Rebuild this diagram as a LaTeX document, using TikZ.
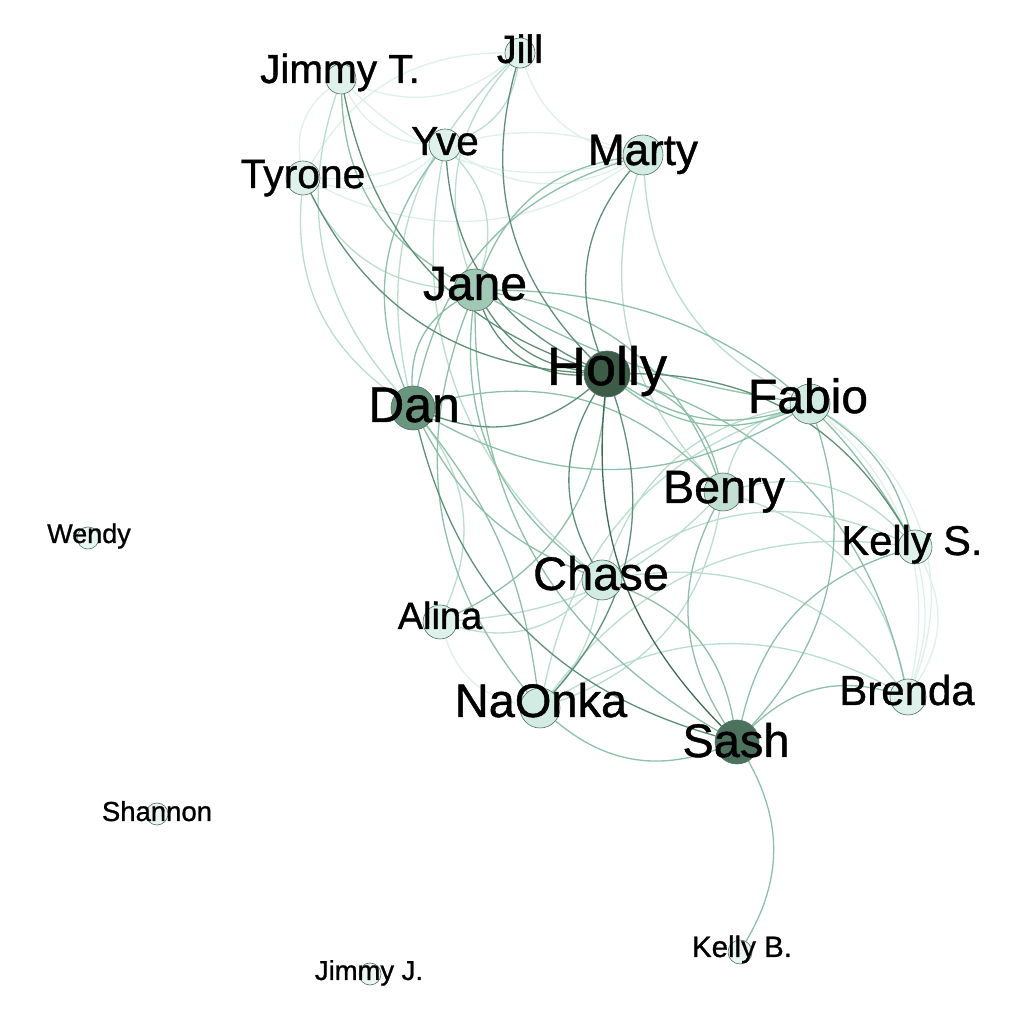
\documentclass[tikz,border=0pt]{standalone}
\usepackage{fontspec}
\setmainfont{Liberation Sans}
\newfontfamily\lblfont{Liberation Sans}[FakeBold=0.9]
\pgfdeclarelayer{edgelayer}
\pgfsetlayers{edgelayer,main}
\definecolor{ecA}{HTML}{DDF1EA}
\definecolor{ecB}{HTML}{B9DDCF}
\definecolor{ecC}{HTML}{8DC0A9}
\definecolor{ecD}{HTML}{5E9078}
\definecolor{ecE}{HTML}{3F6B55}
\definecolor{nbord}{HTML}{4F6F60}
\definecolor{nHo}{HTML}{3D5C48}
\definecolor{nSa}{HTML}{4C725F}
\definecolor{nDa}{HTML}{6A967F}
\definecolor{nJa}{HTML}{A0C8B5}
\definecolor{nBe}{HTML}{C3DFD3}
\definecolor{nMid}{HTML}{D2EBE3}
\definecolor{nLow}{HTML}{DFF1EB}
\definecolor{nMin}{HTML}{EAF6F1}
\begin{document}
\begin{tikzpicture}[x=1pt,y=1pt,
  vtx/.style={circle,inner sep=0pt,draw=nbord,line width=0.6pt},
  lbl/.style={anchor=base,inner sep=0pt,text=black},
  edge/.style={line width=1.3pt},
  eA/.style={edge,draw=ecA},
  eB/.style={edge,draw=ecB},
  eC/.style={edge,draw=ecC},
  eD/.style={edge,draw=ecD},
  eE/.style={edge,draw=ecE},
  br/.style={bend right=#1}, br/.default=30]
\useasboundingbox (0,0) rectangle (1024,1024);

% vertices
\node[vtx,fill=nLow,minimum size=30pt] (JT) at (341,945) {};
\node[vtx,fill=nLow,minimum size=30pt] (Ji) at (520,971) {};
\node[vtx,fill=nLow,minimum size=32pt] (Yv) at (445,879) {};
\node[vtx,fill=nLow,minimum size=34pt] (Ty) at (303,846) {};
\node[vtx,fill=nMid,minimum size=40pt] (Ma) at (643,869) {};
\node[vtx,fill=nJa,minimum size=42pt] (Ja) at (475,734) {};
\node[vtx,fill=nHo,minimum size=46pt] (Ho) at (607,650) {};
\node[vtx,fill=nDa,minimum size=44pt] (Da) at (413,616) {};
\node[vtx,fill=nMid,minimum size=40pt] (Fa) at (810,620) {};
\node[vtx,fill=nBe,minimum size=38pt] (Be) at (723,532) {};
\node[vtx,fill=nLow,minimum size=34pt] (KS) at (915,477) {};
\node[vtx,fill=nMid,minimum size=40pt] (Ch) at (602,444) {};
\node[vtx,fill=nLow,minimum size=34pt] (Al) at (440,402) {};
\node[vtx,fill=nMid,minimum size=40pt] (Na) at (540,316) {};
\node[vtx,fill=nLow,minimum size=36pt] (Br) at (908,327) {};
\node[vtx,fill=nSa,minimum size=44pt] (Sa) at (737,282) {};
\node[vtx,fill=nMin,minimum size=24pt] (KB) at (740,72) {};
\node[vtx,fill=nMin,minimum size=22pt] (We) at (88,486) {};
\node[vtx,fill=nMin,minimum size=22pt] (Sh) at (157,210) {};
\node[vtx,fill=nMin,minimum size=22pt] (JJ) at (370,50) {};

% labels
\node[lbl,font=\lblfont\fontsize{40.5}{40.5}\selectfont] (JT-t) at (340,941) {Jimmy T.};
\node[lbl,font=\lblfont\fontsize{39.5}{39.5}\selectfont] (Ji-t) at (520,961) {Jill};
\node[lbl,font=\lblfont\fontsize{40.5}{40.5}\selectfont] (Yv-t) at (445,869) {Yve};
\node[lbl,font=\lblfont\fontsize{40.8}{40.8}\selectfont] (Ty-t) at (303,836) {Tyrone};
\node[lbl,font=\lblfont\fontsize{44}{44}\selectfont] (Ma-t) at (643,859) {Marty};
\node[lbl,font=\lblfont\fontsize{48}{48}\selectfont] (Ja-t) at (475,724) {Jane};
\node[lbl,font=\lblfont\fontsize{54}{54}\selectfont] (Ho-t) at (607,639) {Holly};
\node[lbl,font=\lblfont\fontsize{50}{50}\selectfont] (Da-t) at (414,602) {Dan};
\node[lbl,font=\lblfont\fontsize{48}{48}\selectfont] (Fa-t) at (808,611) {Fabio};
\node[lbl,font=\lblfont\fontsize{46.7}{46.7}\selectfont] (Be-t) at (724,521) {Benry};
\node[lbl,font=\lblfont\fontsize{47}{47}\selectfont] (Ch-t) at (601,434) {Chase};
\node[lbl,font=\lblfont\fontsize{41.6}{41.6}\selectfont] (KS-t) at (912,469) {Kelly S.};
\node[lbl,font=\lblfont\fontsize{38}{38}\selectfont] (Al-t) at (440,395) {Alina};
\node[lbl,font=\lblfont\fontsize{47}{47}\selectfont] (Na-t) at (541,307) {NaOnka};
\node[lbl,font=\lblfont\fontsize{42}{42}\selectfont] (Br-t) at (907,319) {Brenda};
\node[lbl,font=\lblfont\fontsize{47}{47}\selectfont] (Sa-t) at (736,267) {Sash};
\node[lbl,font=\lblfont\fontsize{29.5}{29.5}\selectfont] (KB-t) at (742,67) {Kelly B.};
\node[lbl,font=\lblfont\fontsize{27}{27}\selectfont] (We-t) at (89,481) {Wendy};
\node[lbl,font=\lblfont\fontsize{27.5}{27.5}\selectfont] (Sh-t) at (157,203) {Shannon};
\node[lbl,font=\lblfont\fontsize{27.4}{27.4}\selectfont] (JJ-t) at (369,44) {Jimmy J.};

\begin{pgfonlayer}{edgelayer}
\fill[white] (0,0) rectangle (1024,1024);
% faint
\draw[eA] (JT) to[br] (Ji);
\draw[eA] (JT) to[br] (Yv);
\draw[eA] (JT) to[br] (Ty);
\draw[eA] (JT) to[br] (Ma);
\draw[eA] (Ty) to[br] (Yv);
\draw[eA] (Ty) to[br=15] (Yv);
\draw[eA] (Ty) to[br] (Ma);
\draw[eA] (Yv) to[br] (Ma);
\draw[eA] (Yv) to[br=-15] (Ma);
\draw[eA] (Ji) to[br] (Ma);
\draw[eA] (Ji) to[br] (Ty);
\draw[eA] (Al) to[br] (Na);
\draw[eA] (Br) to[br] (Fa);
\draw[eA] (Br) to[br=40] (Fa);
\draw[eA] (Br) to[br] (KS);
\draw[eA] (Br) to[br=15] (KS);
% light
\draw[eB] (Ty) to[br] (Ja);
\draw[eB] (JT) to[br] (Da);
\draw[eB] (Ty) to[br] (Da);
\draw[eB] (Yv) to[br] (Ji);
\draw[eB] (Ji) to[br] (Ja);
\draw[eB] (Ja) to[br] (Yv);
\draw[eB] (Ma) to[br] (Be);
\draw[eB] (Ma) to[br] (Fa);
\draw[eB] (Al) to[br] (Da);
\draw[eB] (Al) to[br] (Ch);
\draw[eB] (Al) to[br=20] (Be);
\draw[eB] (Fa) to[br] (Be);
\draw[eB] (Fa) to[br] (Ch);
\draw[eB] (Fa) to[br] (Na);
\draw[eB] (Br) to[br] (Ch);
\draw[eB] (Br) to[br] (Na);
\draw[eB] (Br) to[br] (Be);
\draw[eB] (KS) to[br] (Be);
\draw[eB] (KS) to[br] (Ch);
\draw[eB] (KS) to[br] (Na);
\draw[eB] (Na) to[br] (Be);
\draw[eB] (Na) to[br=15] (Ch);
\draw[eB] (Ji) to[br] (Da);
\draw[eB] (Yv) to[br] (Ch);
% medium
\draw[eC] (Yv) to[br] (Da);
\draw[eC] (Ma) to[br] (Ja);
\draw[eC] (Ma) to[br] (Da);
\draw[eC] (Ja) to[br] (Da);
\draw[eC] (Ja) to[br=10] (Fa);
\draw[eC] (Be) to[br] (Ja);
\draw[eC] (KS) to[br] (Ja);
\draw[eC] (Ja) to[br] (Na);
\draw[eC] (Ja) to[br] (Ch);
\draw[eC] (Ja) to[br] (Sa);
\draw[eC] (Da) to[br] (Fa);
\draw[eC] (Be) to[br] (Da);
\draw[eC] (Da) to[br=20] (Ch);
\draw[eC] (Na) to[br=15] (Da);
\draw[eC] (Be) to[br] (Ho);
\draw[eC] (Ho) to[br] (Fa);
\draw[eC] (Ho) to[br=25] (Fa);
\draw[eC] (KS) to[br=20] (Fa);
\draw[eC] (Sa) to[br] (Fa);
\draw[eC] (Be) to[br] (Sa);
\draw[eC] (Sa) to[br] (Ch);
\draw[eC] (KS) to[br] (Sa);
\draw[eC] (Br) to[br] (Sa);
\draw[eC] (Na) to[br] (Sa);
\draw[eC] (KB) to[br] (Sa);
\draw[eC] (Al) to[br] (Ho);
\draw[eC] (Br) to[br] (Ho);
\draw[eC] (JT) to[br] (Ja);
% dark
\draw[eD] (Ja) to[br=25] (Ho);
\draw[eD] (Ja) to[br=35] (Ho);
\draw[eD] (Ma) to[br] (Ho);
\draw[eD] (Ji) to[br] (Ho);
\draw[eD] (Yv) to[br] (Ho);
\draw[eD] (Ty) to[br] (Ho);
\draw[eD] (JT) to[br] (Ho);
\draw[eD] (Da) to[br] (Ho);
\draw[eD] (Ho) to[br] (Ch);
\draw[eD] (Na) to[br] (Ho);
\draw[eD] (Da) to[br] (Sa);
\draw[eD] (KS) to[br] (Ho);
\draw[eE] (Ho) to[br=25] (Sa);
\end{pgfonlayer}
\end{tikzpicture}
\end{document}
